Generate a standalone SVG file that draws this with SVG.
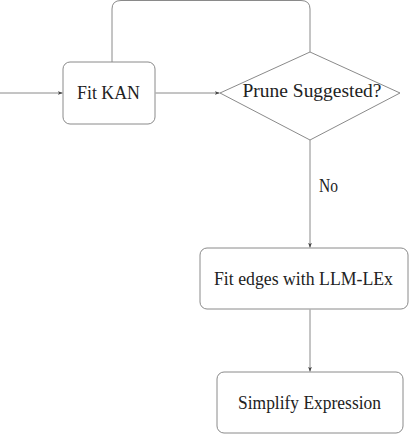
<svg xmlns="http://www.w3.org/2000/svg" width="409" height="434" viewBox="0 0 409 434">
<style>
.n{fill:#fff;stroke:#8a8a8a;stroke-width:1}
.c{fill:none;stroke:#8a8a8a;stroke-width:1}
.t{font-family:'Liberation Serif','DejaVu Serif',serif;font-size:19px;fill:#222;text-anchor:middle}
</style>
<defs>
<marker id="a" viewBox="0 0 8 6" refX="7.5" refY="3" markerWidth="5" markerHeight="4" orient="auto" markerUnits="userSpaceOnUse">
<path d="M0,0 L8,3 L0,6 L2,3 Z" fill="#444"/>
</marker>
</defs>
<rect width="409" height="434" fill="#fff"/>
<g id="connectors">
<path class="c" d="M0,93 H62.5" marker-end="url(#a)"/>
<path class="c" d="M155.5,93 H219.5" marker-end="url(#a)"/>
<path class="c" d="M112,62 V9 Q112,0.5 121,0.5 H301 Q310,0.5 310,9 V52"/>
<path class="c" d="M310,140 V247.5" marker-end="url(#a)"/>
<path class="c" d="M310,309.5 V371.5" marker-end="url(#a)"/>
<text class="t" x="328.5" y="192" textLength="19" lengthAdjust="spacingAndGlyphs">No</text>
</g>
<g id="fitkan">
<rect class="n" x="63" y="62" width="92" height="62" rx="7"/>
<text class="t" x="108.5" y="99" textLength="63" lengthAdjust="spacingAndGlyphs">Fit KAN</text>
</g>
<g id="prune">
<path class="n" d="M310,52 L400,93 L310,140 L220,93 Z" stroke-linejoin="round"/>
<text class="t" x="312" y="97" textLength="139" lengthAdjust="spacingAndGlyphs">Prune Suggested?</text>
</g>
<g id="fitedges">
<rect class="n" x="200" y="248" width="208" height="61" rx="7"/>
<text class="t" x="303.5" y="284.5" textLength="179" lengthAdjust="spacingAndGlyphs">Fit edges with LLM-LEx</text>
</g>
<g id="simplify">
<rect class="n" x="217" y="372" width="186" height="61" rx="7"/>
<text class="t" x="309.5" y="409" textLength="143" lengthAdjust="spacingAndGlyphs">Simplify Expression</text>
</g>
</svg>
